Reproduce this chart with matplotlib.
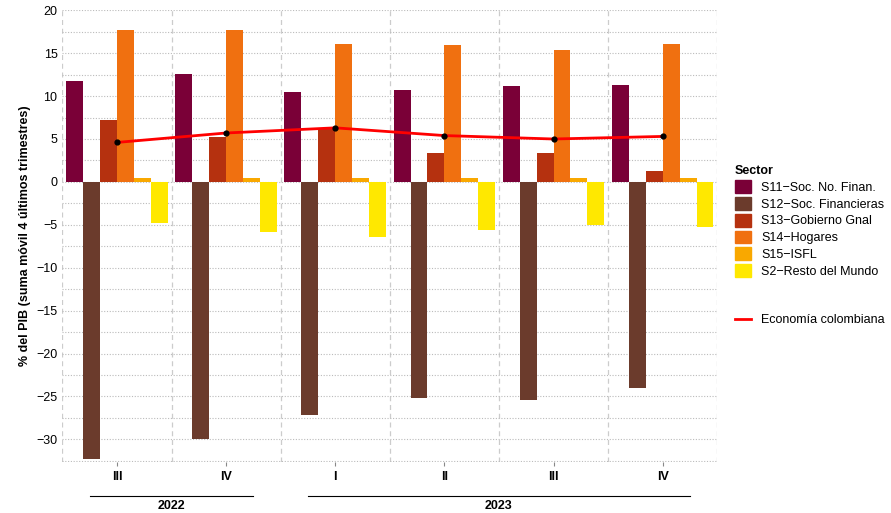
import matplotlib
matplotlib.use("Agg")
import matplotlib.pyplot as plt
import numpy as np
from matplotlib.lines import Line2D
from matplotlib.patches import Patch

plt.rcParams["font.family"] = ["Liberation Sans", "DejaVu Sans"]

quarters = ["III", "IV", "I", "II", "III", "IV"]
sectors = ["S11\u2212Soc. No. Finan.", "S12\u2212Soc. Financieras", "S13\u2212Gobierno Gnal",
           "S14\u2212Hogares", "S15\u2212ISFL", "S2\u2212Resto del Mundo"]
colors = ["#7a0037", "#6b3b2c", "#b5310f", "#f07010", "#f9a800", "#ffe800"]
s11 = [11.7, 12.6, 10.5, 10.7, 11.2, 11.3]
s12 = [-32.3, -30.0, -27.2, -25.2, -25.4, -24.0]
s13 = [7.2, 5.2, 6.3, 3.4, 3.4, 1.3]
s14 = [17.7, 17.7, 16.1, 16.0, 15.4, 16.1]
s15 = [0.4, 0.4, 0.4, 0.4, 0.4, 0.4]
s2 = [-4.8, -5.8, -6.4, -5.6, -5.0, -5.3]
economia = [4.6, 5.7, 6.3, 5.4, 5.0, 5.3]
series = [s11, s12, s13, s14, s15, s2]

fig = plt.figure(figsize=(8.91, 5.13), dpi=100)
ax = fig.add_axes([0.07, 0.10, 0.735, 0.88])
x = np.arange(len(quarters))
w = 0.155
for i, (vals, c) in enumerate(zip(series, colors)):
    ax.bar(x + (i - 2.5) * w, vals, w, color=c, zorder=3)
ax.plot(x, economia, color="#ff0000", lw=2, zorder=4)
ax.scatter(x, economia, color="black", s=12, zorder=5)

ax.set_xlim(-0.5, len(x) - 0.5)
ax.set_ylim(-32.6, 20)
ax.set_yticks(np.arange(-30, 21, 5))
ax.set_yticks(np.arange(-32.5, 20.1, 2.5), minor=True)
ax.grid(axis="y", which="both", color="#bbbbbb", ls=(0, (1, 1.5)), lw=0.8, zorder=0)
for b in np.arange(-0.5, len(x), 1.0):
    ax.axvline(b, color="#cccccc", ls=(0, (4, 3)), lw=0.9, zorder=0)
for s in ax.spines.values():
    s.set_visible(False)
ax.tick_params(axis="y", which="both", length=0, labelsize=9)
ax.set_xticks(x)
ax.set_xticklabels(quarters, fontsize=9, fontweight="bold")
ax.tick_params(axis="x", length=3, color="#888888")
ax.set_ylabel("% del PIB (suma m\u00f3vil 4 \u00faltimos trimestres)", fontsize=9, fontweight="bold")

trans = ax.get_xaxis_transform()
for yr, idx in [("2022", [0, 1]), ("2023", [2, 3, 4, 5])]:
    x0, x1 = idx[0] - 0.25, idx[-1] + 0.25
    ax.plot([x0, x1], [-0.075, -0.075], transform=trans, color="black", lw=0.8, clip_on=False)
    ax.text((idx[0] + idx[-1]) / 2, -0.085, yr, transform=trans, ha="center", va="top",
            fontsize=9, fontweight="bold")

handles = [Patch(color=c, label=s) for c, s in zip(colors, sectors)]
leg = fig.legend(handles=handles, title="Sector", loc="upper left", bbox_to_anchor=(0.812, 0.70),
                 frameon=False, fontsize=9, handlelength=1.3, handleheight=1.2, labelspacing=0.25,
                 alignment="left")
leg.get_title().set_fontweight("bold")
leg.get_title().set_fontsize(9)
fig.legend(handles=[Line2D([], [], color="#ff0000", lw=2, label="Econom\u00eda colombiana")],
           loc="upper left", bbox_to_anchor=(0.812, 0.41), frameon=False, fontsize=9, handlelength=1.3)
fig.savefig("out.png", dpi=100)
